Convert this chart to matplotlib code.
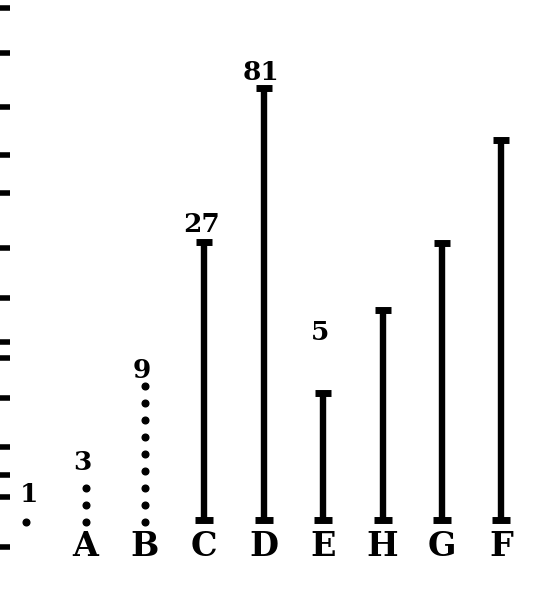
import matplotlib
matplotlib.use('Agg')
import matplotlib.pyplot as plt

# columns of the old woodcut, left to right
letters = ['', 'A', 'B', 'C', 'D', 'E', 'H', 'G', 'F']
# the first three columns are rows of dots (1, 3 and 9 dots)
dot_counts = [1, 3, 9]
# solid stems: height above the base line (read in pixels of the print)
stem_heights = [280, 434, 129, 212, 279, 382]
# numbers written over the columns and the height they sit at
numbers = ['1', '3', '9', '27', '81', '5']
number_heights = [28, 59, 152, 297, 450, 190]
# stray marks along the cut left edge (from the facing page)
edge_marks = [514, 469, 415, 367, 329, 274, 224, 180, 164, 124, 75, 47, 25, -25]

dot_step = 17

fig = plt.figure(figsize=(5.56, 6.09), dpi=100)
ax = fig.add_axes([0, 0, 1, 1])

# dotted columns
for i, n in enumerate(dot_counts):
    ys = [k * dot_step for k in range(n)]
    ax.plot([i] * n, ys, linestyle='none', marker='o', ms=4.8, color='black')

# solid stems with a little cap and foot
for j, h in enumerate(stem_heights):
    i = j + len(dot_counts)
    ax.plot([i, i], [0, h], color='black', lw=4.6, solid_capstyle='butt')
    ax.plot([i], [h], marker='_', ms=11, mew=5, color='black')
    ax.plot([i], [2], marker='_', ms=13, mew=5, color='black')

for i, (t, y) in enumerate(zip(numbers, number_heights)):
    ax.text(i + (0.05 if i == 0 else -0.05), y, t, ha='center', va='center',
            fontsize=19, fontweight='bold', family='DejaVu Serif', color='black')

for i, t in enumerate(letters):
    if t:
        ax.text(i, -24, t, ha='center', va='center', fontsize=24,
                fontweight='bold', family='DejaVu Serif', color='black')

ax.set_xlim(-0.44, 8.92)
ax.set_ylim(-87, 522)
ax.set_yticks(edge_marks)
ax.tick_params(axis='y', direction='in', length=7, width=4, pad=0,
               labelleft=False, color='black')
ax.tick_params(axis='x', bottom=False, labelbottom=False)
for s in ax.spines.values():
    s.set_visible(False)

fig.savefig('out.png', dpi=100, facecolor='white')
